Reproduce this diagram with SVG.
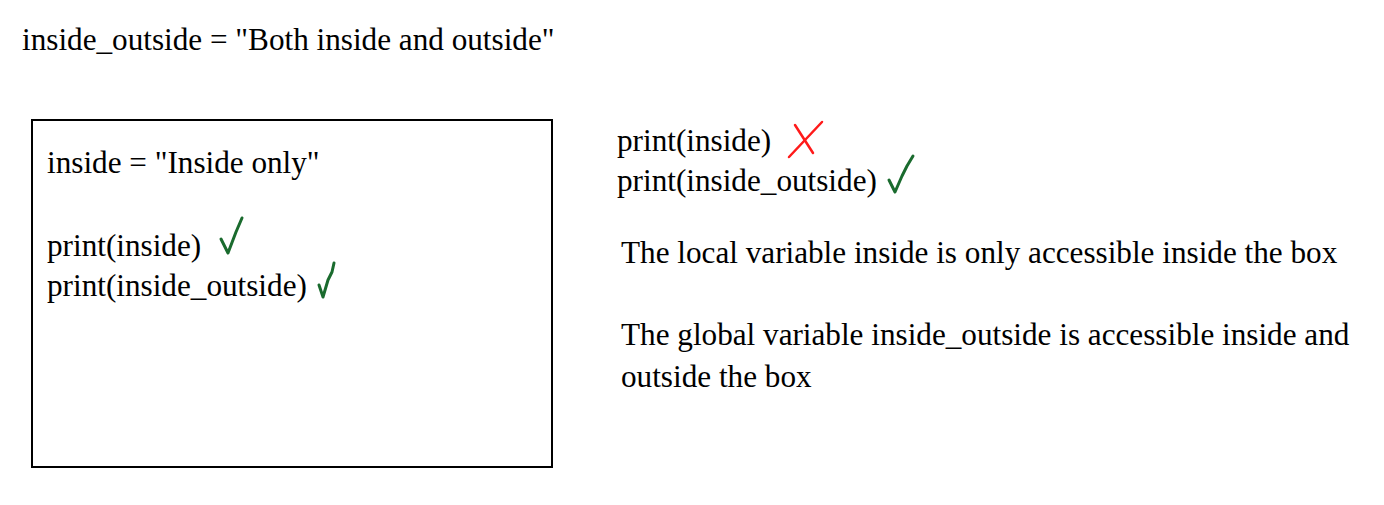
<svg xmlns="http://www.w3.org/2000/svg" width="1384" height="505" viewBox="0 0 1384 505">
<style>
text{font-family:"Liberation Serif","Times New Roman",serif;font-size:31.2px;fill:#000}
.ok{fill:none;stroke:#1a6b2e;stroke-width:3;stroke-linecap:round;stroke-linejoin:round}
.no{fill:none;stroke:#ff1a1a;stroke-width:2.5;stroke-linecap:round}
</style>
<rect width="1384" height="505" fill="#fff"/>
<g id="global"><text x="22" y="50">inside_outside = "Both inside and outside"</text></g>
<g id="box">
<rect x="32" y="120" width="520" height="347" fill="none" stroke="#000" stroke-width="2"/>
<text x="47" y="173">inside = "Inside only"</text>
<text x="47" y="256">print(inside)</text>
<text x="47" y="296">print(inside_outside)</text>
<path class="ok" d="M221,239 L228,253 L236,232 L242,218"/>
<path class="ok" d="M319,285 L323,297 L328,280 L332,272 L334,263"/>
</g>
<g id="outside">
<text x="617" y="151">print(inside)</text>
<text x="617" y="191">print(inside_outside)</text>
<path class="no" d="M795,125 L813,153"/>
<path class="no" d="M822,122 L789,157"/>
<path class="ok" d="M889,180 L895,192 L902,176 L907,166 L913,156"/>
</g>
<g id="notes">
<text x="621" y="263">The local variable inside is only accessible inside the box</text>
<text x="621" y="345">The global variable inside_outside is accessible inside and</text>
<text x="621" y="387">outside the box</text>
</g>
<g id="connectors"/>
</svg>
